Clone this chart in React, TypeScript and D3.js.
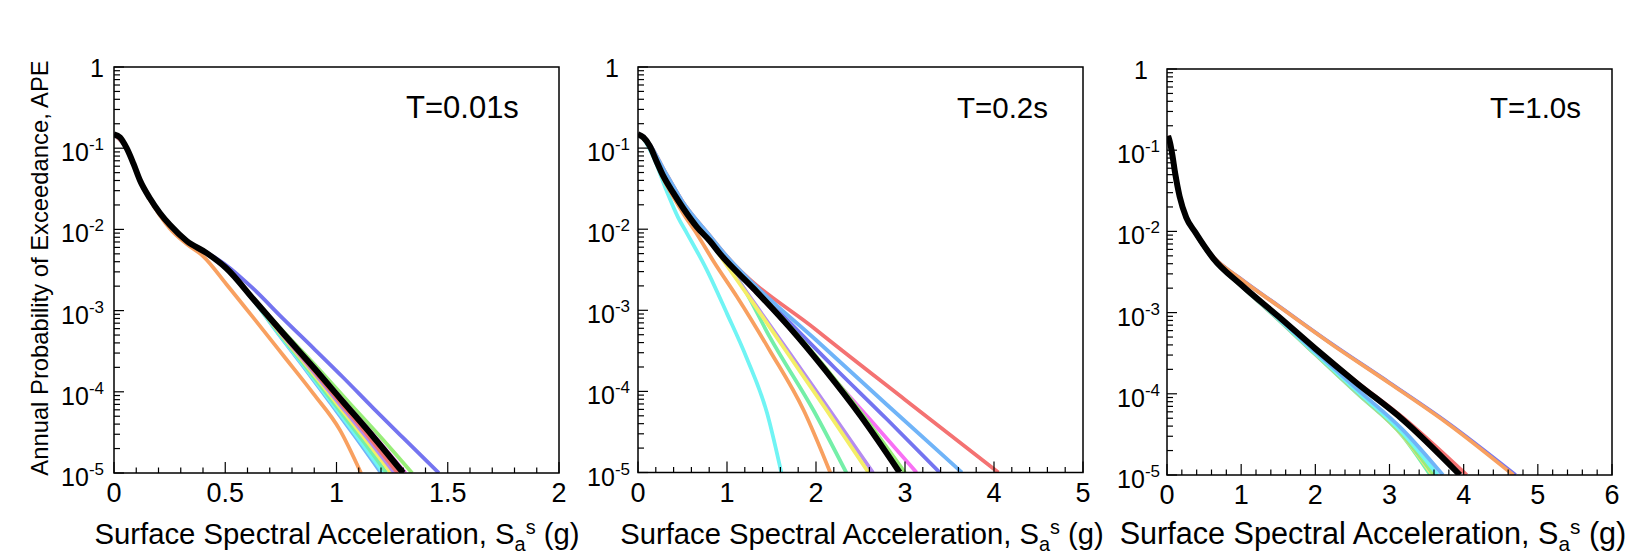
import React from 'react';
import * as d3 from 'd3';

type Pt = [number, number];

// ---------- Panel 1 : T = 0.01 s ----------
const p1Black: Pt[] = [[0,0.148],[0.027,0.136],[0.057,0.1],[0.087,0.065],[0.117,0.04],[0.162,0.024],[0.207,0.0158],[0.252,0.0113],[0.327,0.0072],[0.417,0.0051],[0.506,0.0033],[0.63,1.35e-3],[0.76,5.25e-4],[0.9,1.95e-4],[1.03,7.5e-5],[1.165,2.8e-5],[1.30,1e-5]];
const p1Orange: Pt[] = [[0,0.148],[0.027,0.136],[0.057,0.1],[0.087,0.065],[0.117,0.04],[0.162,0.023],[0.207,0.0148],[0.252,0.0102],[0.327,0.0066],[0.40,0.0047],[0.506,2.1e-3],[0.626,8.2e-4],[0.761,2.8e-4],[0.896,9.5e-5],[1.015,3.4e-5],[1.11,1e-5]];
const p1LightBlue: Pt[] = [[0,0.148],[0.057,0.1],[0.117,0.04],[0.207,0.0158],[0.327,0.0072],[0.417,0.0051],[0.506,0.0033],[0.626,1.35e-3],[0.737,5.25e-4],[0.857,1.95e-4],[0.969,7.5e-5],[1.084,2.8e-5],[1.20,1e-5]];
const p1Cyan: Pt[] = [[0,0.148],[0.057,0.1],[0.117,0.04],[0.207,0.0158],[0.327,0.0072],[0.417,0.0051],[0.506,0.0033],[0.626,1.35e-3],[0.739,5.25e-4],[0.861,1.95e-4],[0.975,7.5e-5],[1.092,2.8e-5],[1.21,1e-5]];
const p1Seafoam: Pt[] = [[0,0.148],[0.057,0.1],[0.117,0.04],[0.207,0.0158],[0.327,0.0072],[0.417,0.0051],[0.506,0.0033],[0.627,1.35e-3],[0.743,5.25e-4],[0.868,1.95e-4],[0.984,7.5e-5],[1.105,2.8e-5],[1.225,1e-5]];
const p1Yellow: Pt[] = [[0,0.148],[0.057,0.1],[0.117,0.04],[0.207,0.0158],[0.327,0.0072],[0.417,0.0051],[0.506,0.0033],[0.628,1.35e-3],[0.747,5.25e-4],[0.876,1.95e-4],[0.996,7.5e-5],[1.12,2.8e-5],[1.245,1e-5]];
const p1Lilac: Pt[] = [[0,0.148],[0.057,0.1],[0.117,0.04],[0.207,0.0158],[0.327,0.0072],[0.417,0.0051],[0.506,0.0033],[0.628,1.35e-3],[0.751,5.25e-4],[0.883,1.95e-4],[1.006,7.5e-5],[1.133,2.8e-5],[1.26,1e-5]];
const p1Red: Pt[] = [[0,0.148],[0.057,0.1],[0.117,0.04],[0.207,0.0158],[0.327,0.0072],[0.417,0.0051],[0.506,0.0033],[0.629,1.35e-3],[0.754,5.25e-4],[0.889,1.95e-4],[1.015,7.5e-5],[1.145,2.8e-5],[1.275,1e-5]];
const p1Magenta: Pt[] = [[0,0.148],[0.057,0.1],[0.117,0.04],[0.207,0.0158],[0.327,0.0072],[0.417,0.0051],[0.506,0.0033],[0.63,1.35e-3],[0.762,5.25e-4],[0.904,1.95e-4],[1.036,7.5e-5],[1.173,2.8e-5],[1.31,1e-5]];
const p1Green: Pt[] = [[0,0.148],[0.057,0.1],[0.117,0.04],[0.207,0.0158],[0.327,0.0072],[0.417,0.0051],[0.506,0.0033],[0.632,1.35e-3],[0.769,5.25e-4],[0.917,1.95e-4],[1.054,7.5e-5],[1.197,2.8e-5],[1.34,1e-5]];
const p1Purple: Pt[] = [[0,0.148],[0.057,0.1],[0.117,0.04],[0.207,0.0158],[0.327,0.0072],[0.417,0.0052],[0.506,0.0036],[0.626,1.86e-3],[0.761,7.9e-4],[0.896,3.45e-4],[1.03,1.5e-4],[1.165,6.3e-5],[1.30,2.7e-5],[1.46,1e-5]];

// ---------- Panel 2 : T = 0.2 s ----------
const p2Black: Pt[] = [[0,0.148],[0.06,0.136],[0.135,0.105],[0.21,0.068],[0.285,0.045],[0.397,0.028],[0.51,0.018],[0.66,0.0107],[0.81,0.0071],[0.92,0.005],[1.3,1.85e-3],[1.7,6.2e-4],[2.1,1.85e-4],[2.5,5.0e-5],[2.94,1e-5]];
const p2Green: Pt[] = [[0,0.148],[0.135,0.105],[0.285,0.045],[0.51,0.018],[0.81,0.0071],[0.92,0.005],[1.3,1.9e-3],[1.7,6.5e-4],[2.1,2.0e-4],[2.5,5.6e-5],[3.0,1e-5]];
const p2Magenta: Pt[] = [[0,0.148],[0.135,0.105],[0.285,0.045],[0.51,0.018],[0.81,0.0071],[0.92,0.005],[1.5,1.05e-3],[2.1,1.9e-4],[2.6,4.6e-5],[3.13,1e-5]];
const p2Purple: Pt[] = [[0,0.148],[0.135,0.105],[0.285,0.045],[0.51,0.018],[0.81,0.0072],[0.92,0.0054],[1.5,1.2e-3],[2.2,2.0e-4],[2.8,4.5e-5],[3.39,1e-5]];
const p2LightBlue: Pt[] = [[0,0.148],[0.06,0.138],[0.135,0.11],[0.3,0.052],[0.5,0.022],[0.8,0.0085],[1.0,4.6e-3],[1.3,2.1e-3],[2.0,4.3e-4],[2.8,6.8e-5],[3.64,1e-5]];
const p2Red: Pt[] = [[0,0.148],[0.06,0.138],[0.135,0.11],[0.3,0.052],[0.5,0.022],[0.8,0.0085],[1.0,4.6e-3],[2.0,5.75e-4],[3.0,7.9e-5],[4.05,1e-5]];
const p2Lilac: Pt[] = [[0,0.148],[0.135,0.105],[0.285,0.045],[0.51,0.018],[0.81,0.0071],[0.9,5.2e-3],[1.3,1.26e-3],[1.7,3.0e-4],[2.1,7.1e-5],[2.64,1e-5]];
const p2Yellow: Pt[] = [[0,0.148],[0.135,0.105],[0.285,0.045],[0.51,0.018],[0.81,0.0071],[0.9,5.1e-3],[1.3,1.2e-3],[1.7,2.75e-4],[2.1,6.3e-5],[2.59,1e-5]];
const p2Seafoam: Pt[] = [[0,0.148],[0.135,0.105],[0.285,0.045],[0.51,0.018],[0.81,0.0071],[1.2,1.78e-3],[1.48,4.7e-4],[1.97,5.9e-5],[2.34,1e-5]];
const p2Orange: Pt[] = [[0,0.148],[0.06,0.135],[0.135,0.103],[0.21,0.065],[0.285,0.042],[0.397,0.025],[0.51,0.0155],[0.66,0.0088],[0.85,4.0e-3],[1.11,1.48e-3],[1.48,3.2e-4],[1.86,5.9e-5],[2.16,1e-5]];
const p2Cyan: Pt[] = [[0,0.148],[0.06,0.13],[0.17,0.079],[0.32,0.03],[0.45,0.014],[0.55,8.9e-3],[0.77,3.2e-3],[1.0,9.1e-4],[1.22,2.6e-4],[1.45,5.4e-5],[1.61,1e-5]];

// ---------- Panel 3 : T = 1.0 s ----------
const p3Black: Pt[] = [[0.015,0.15],[0.04,0.125],[0.07,0.09],[0.11,0.052],[0.17,0.027],[0.26,0.0148],[0.38,0.0098],[0.62,0.0047],[1.0,2.2e-3],[1.5,9.0e-4],[2.0,3.6e-4],[2.56,1.35e-4],[3.18,4.8e-5],[3.95,1e-5]];
const p3Orange: Pt[] = [[0.015,0.15],[0.04,0.125],[0.07,0.09],[0.11,0.052],[0.17,0.027],[0.26,0.0148],[0.38,0.0099],[0.62,4.9e-3],[0.98,2.65e-3],[1.52,1.17e-3],[2.2,4.2e-4],[3.0,1.35e-4],[3.77,4.4e-5],[4.67,1e-5]];
const p3Purple: Pt[] = [[0.015,0.15],[0.04,0.125],[0.07,0.09],[0.11,0.052],[0.17,0.027],[0.26,0.0148],[0.38,0.0099],[0.62,4.9e-3],[0.98,2.66e-3],[1.52,1.18e-3],[2.2,4.25e-4],[3.0,1.37e-4],[3.77,4.5e-5],[4.7,1e-5]];
const p3Red: Pt[] = [[0.015,0.15],[0.07,0.09],[0.17,0.027],[0.38,0.0098],[0.62,0.0047],[1.0,2.2e-3],[1.5,9.1e-4],[2.0,3.65e-4],[2.56,1.4e-4],[3.18,5.1e-5],[4.04,1e-5]];
const p3LightBlue: Pt[] = [[0.015,0.15],[0.07,0.09],[0.17,0.027],[0.38,0.0098],[0.62,0.0047],[1.0,2.18e-3],[1.5,8.6e-4],[2.0,3.3e-4],[2.56,1.15e-4],[3.18,3.6e-5],[3.72,1e-5]];
const p3Green: Pt[] = [[0.015,0.15],[0.07,0.09],[0.17,0.027],[0.38,0.0097],[0.62,0.0046],[1.0,2.15e-3],[1.5,8.3e-4],[2.0,3.1e-4],[2.56,1.05e-4],[3.18,3.1e-5],[3.6,1e-5]];
const p3Cyan: Pt[] = [[0.015,0.15],[0.07,0.09],[0.17,0.027],[0.38,0.0097],[0.62,0.0046],[1.0,2.16e-3],[1.5,8.4e-4],[2.0,3.15e-4],[2.56,1.08e-4],[3.18,3.3e-5],[3.65,1e-5]];
const p3Seafoam: Pt[] = [[0.015,0.15],[0.07,0.09],[0.17,0.027],[0.38,0.0097],[0.62,0.0046],[1.0,2.14e-3],[1.5,8.2e-4],[2.0,3.05e-4],[2.56,1.02e-4],[3.18,3.0e-5],[3.55,1e-5]];
const p3Yellow: Pt[] = [[0.015,0.15],[0.07,0.09],[0.17,0.027],[0.38,0.0097],[0.62,0.0046],[1.0,2.15e-3],[1.5,8.3e-4],[2.0,3.08e-4],[2.56,1.04e-4],[3.18,3.05e-5],[3.58,1e-5]];
const p3Magenta: Pt[] = [[0.015,0.15],[0.07,0.09],[0.17,0.027],[0.38,0.0097],[0.62,0.0046],[1.0,2.15e-3],[1.5,8.35e-4],[2.0,3.12e-4],[2.56,1.06e-4],[3.18,3.15e-5],[3.61,1e-5]];
const p3Lilac: Pt[] = [[0.015,0.15],[0.07,0.09],[0.17,0.027],[0.38,0.0097],[0.62,0.0046],[1.0,2.15e-3],[1.5,8.3e-4],[2.0,3.1e-4],[2.56,1.05e-4],[3.18,3.1e-5],[3.6,1e-5]];

// ---------- Axis tick labels / titles ----------
const yTickExponents = [0, -1, -2, -3, -4, -5];
const p1XTicks = [0, 0.5, 1, 1.5, 2];
const p2XTicks = [0, 1, 2, 3, 4, 5];
const p3XTicks = [0, 1, 2, 3, 4, 5, 6];
const panelTitles = ['T=0.01s', 'T=0.2s', 'T=1.0s'];
const yAxisTitle = 'Annual Probability of Exceedance, APE';

// ---------- Styles ----------
const COLORS: Record<string, string> = {
  black: '#000000',
  orange: '#F8A060',
  cyan: '#70F4F4',
  lightBlue: '#70B4F8',
  seafoam: '#74EFA8',
  yellow: '#F4EE66',
  lilac: '#B48CF0',
  red: '#F47272',
  magenta: '#F870F4',
  green: '#98EE78',
  purple: '#7474F0',
};

type Series = { name: string; data: Pt[] };

const panel1Series: Series[] = [
  { name: 'orange', data: p1Orange },
  { name: 'purple', data: p1Purple },
  { name: 'green', data: p1Green },
  { name: 'magenta', data: p1Magenta },
  { name: 'lightBlue', data: p1LightBlue },
  { name: 'cyan', data: p1Cyan },
  { name: 'seafoam', data: p1Seafoam },
  { name: 'yellow', data: p1Yellow },
  { name: 'lilac', data: p1Lilac },
  { name: 'red', data: p1Red },
  { name: 'black', data: p1Black },
];
const panel2Series: Series[] = [
  { name: 'cyan', data: p2Cyan },
  { name: 'orange', data: p2Orange },
  { name: 'seafoam', data: p2Seafoam },
  { name: 'lilac', data: p2Lilac },
  { name: 'yellow', data: p2Yellow },
  { name: 'red', data: p2Red },
  { name: 'purple', data: p2Purple },
  { name: 'lightBlue', data: p2LightBlue },
  { name: 'magenta', data: p2Magenta },
  { name: 'green', data: p2Green },
  { name: 'black', data: p2Black },
];
const panel3Series: Series[] = [
  { name: 'seafoam', data: p3Seafoam },
  { name: 'yellow', data: p3Yellow },
  { name: 'lilac', data: p3Lilac },
  { name: 'magenta', data: p3Magenta },
  { name: 'green', data: p3Green },
  { name: 'cyan', data: p3Cyan },
  { name: 'lightBlue', data: p3LightBlue },
  { name: 'red', data: p3Red },
  { name: 'purple', data: p3Purple },
  { name: 'orange', data: p3Orange },
  { name: 'black', data: p3Black },
];

const FONT = '"Liberation Sans", Arial, Helvetica, sans-serif';

type PanelCfg = {
  id: string;
  left: number; right: number; top: number; bottom: number;
  xMax: number; minorStep: number;
  xTicks: number[];
  series: Series[];
  title: string;
  titleX: number; titleY: number; titleSize: number;
  tenGap: number; oneGap: number;
  xTitleCx: number; xTitleSize: number;
  showYTitle: boolean;
};

const panels: PanelCfg[] = [
  { id: 'p1', left: 114, right: 559, top: 67, bottom: 473, xMax: 2, minorStep: 0.1, xTicks: p1XTicks, series: panel1Series, title: panelTitles[0], titleX: 406, titleY: 118, titleSize: 31, tenGap: 10, oneGap: 10, xTitleCx: 337, xTitleSize: 29.3, showYTitle: true },
  { id: 'p2', left: 638, right: 1083, top: 67, bottom: 472.5, xMax: 5, minorStep: 0.2, xTicks: p2XTicks, series: panel2Series, title: panelTitles[1], titleX: 957, titleY: 118, titleSize: 29.5, tenGap: 8, oneGap: 19, xTitleCx: 862, xTitleSize: 29.2, showYTitle: false },
  { id: 'p3', left: 1167, right: 1612, top: 69, bottom: 475, xMax: 6, minorStep: 0.2, xTicks: p3XTicks, series: panel3Series, title: panelTitles[2], titleX: 1490, titleY: 118, titleSize: 29.5, tenGap: 7, oneGap: 19, xTitleCx: 1373, xTitleSize: 30.6, showYTitle: false },
];

function fmtTick(v: number) {
  return String(v);
}

function Panel({ cfg }: { cfg: PanelCfg }) {
  const x = d3.scaleLinear().domain([0, cfg.xMax]).range([cfg.left, cfg.right]);
  const y = d3.scaleLog().domain([1e-5, 1]).range([cfg.bottom, cfg.top]);
  const line = d3
    .line<Pt>()
    .x((d) => x(d[0]))
    .y((d) => y(d[1]))
    .curve(d3.curveMonotoneX);

  const minorX = d3.range(0, cfg.xMax + 1e-9, cfg.minorStep).map((v) => Math.round(v * 1000) / 1000);
  const yMinor: number[] = [];
  for (let e = -5; e < 0; e++) {
    for (let m = 2; m <= 9; m++) yMinor.push(m * Math.pow(10, e));
  }
  const clipId = `clip-${cfg.id}`;
  return (
    <g>
      <defs>
        <clipPath id={clipId}>
          <rect x={cfg.left} y={cfg.top} width={cfg.right - cfg.left} height={cfg.bottom - cfg.top} />
        </clipPath>
      </defs>
      <g clipPath={`url(#${clipId})`}>
        {cfg.series.map((s, i) => (
          <path
            key={i}
            d={line(s.data) || ''}
            fill="none"
            stroke={COLORS[s.name]}
            strokeWidth={s.name === 'black' ? 6 : 3.8}
            strokeLinejoin="round"
            strokeLinecap="butt"
          />
        ))}
      </g>
      {minorX.map((v, i) => {
        const isMajor = cfg.xTicks.some((t) => Math.abs(t - v) < 1e-6);
        return (
          <line key={`xt${i}`} x1={x(v)} x2={x(v)} y1={cfg.bottom} y2={cfg.bottom - (isMajor ? 11 : 5.5)} stroke="#000" strokeWidth={1.2} />
        );
      })}
      {yMinor.map((v, i) => (
        <line key={`ym${i}`} x1={cfg.left} x2={cfg.left + 6} y1={y(v)} y2={y(v)} stroke="#000" strokeWidth={1.2} />
      ))}
      {yTickExponents.map((e, i) => (
        <line key={`yM${i}`} x1={cfg.left} x2={cfg.left + 10} y1={y(Math.pow(10, e))} y2={y(Math.pow(10, e))} stroke="#000" strokeWidth={1.2} />
      ))}
      <rect x={cfg.left} y={cfg.top} width={cfg.right - cfg.left} height={cfg.bottom - cfg.top} fill="none" stroke="#000" strokeWidth={1.5} />
      {cfg.xTicks.map((v, i) => (
        <text key={`xl${i}`} x={x(v)} y={cfg.bottom + 29} textAnchor="middle" fontSize={27} fontFamily={FONT} fill="#000">
          {fmtTick(v)}
        </text>
      ))}
      {yTickExponents.map((e, i) => {
        const ty = y(Math.pow(10, e));
        if (e === 0) {
          return (
            <text key={`yl${i}`} x={cfg.left - cfg.oneGap} y={ty + 10} textAnchor="end" fontSize={25} fontFamily={FONT} fill="#000">1</text>
          );
        }
        return (
          <text key={`yl${i}`} x={cfg.left - cfg.tenGap} y={ty + 13} textAnchor="end" fontSize={25} fontFamily={FONT} fill="#000">
            10<tspan fontSize={17} dy={-11}>{`-${-e}`}</tspan>
          </text>
        );
      })}
      <text x={cfg.titleX} y={cfg.titleY} fontSize={cfg.titleSize} fontFamily={FONT} fill="#000">{cfg.title}</text>
      <text x={cfg.xTitleCx} y={544} textAnchor="middle" fontSize={cfg.xTitleSize} fontFamily={FONT} fill="#000">
        Surface Spectral Acceleration, S<tspan fontSize={cfg.xTitleSize * 0.68} dy={7}>a</tspan>
        <tspan fontSize={cfg.xTitleSize * 0.68} dy={-17}>s</tspan>
        <tspan dy={10}> (g)</tspan>
      </text>
      {cfg.showYTitle && (
        <text transform={`translate(48, 268) rotate(-90)`} textAnchor="middle" fontSize={23.8} fontFamily={FONT} fill="#000">
          {yAxisTitle}
        </text>
      )}
    </g>
  );
}

export default function App() {
  return (
    <svg width={1632} height={559} style={{ position: 'absolute', left: 0, top: 0, background: '#fff' }}>
      <rect x={0} y={0} width={1632} height={559} fill="#fff" />
      {panels.map((p) => (
        <Panel key={p.id} cfg={p} />
      ))}
    </svg>
  );
}
